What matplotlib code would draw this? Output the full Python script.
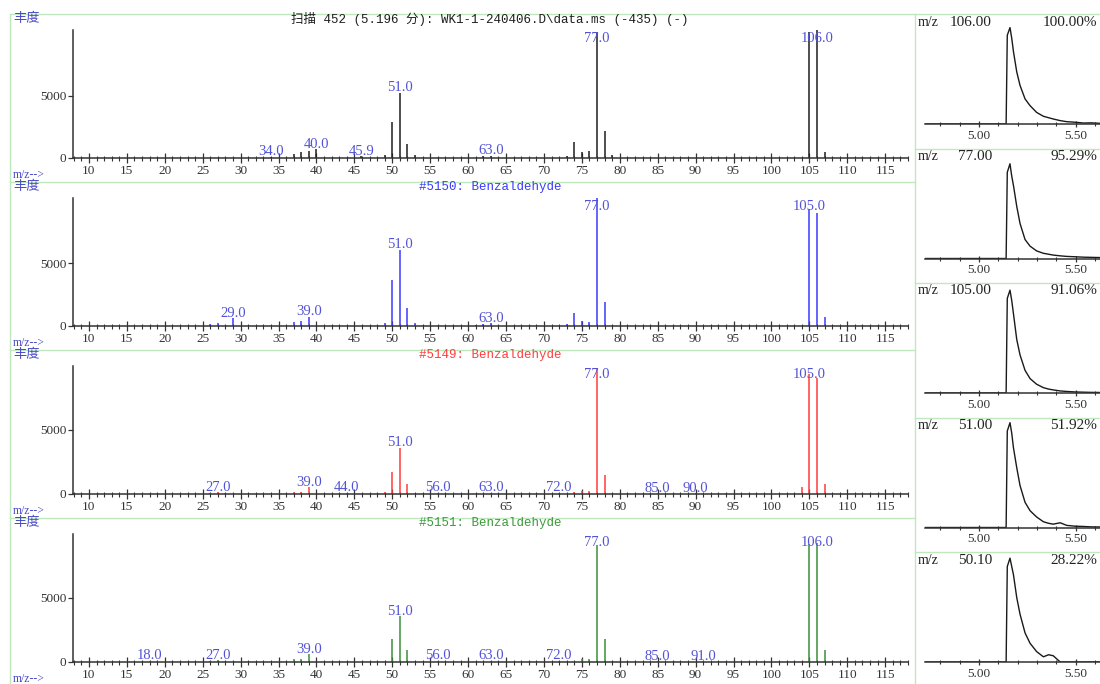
import matplotlib
matplotlib.use('Agg')
import matplotlib.pyplot as plt
from matplotlib.lines import Line2D
from matplotlib.ticker import FixedLocator, MultipleLocator

plt.rcParams['font.family'] = ['Liberation Serif', 'Noto Sans CJK SC']

# ---------------- data ----------------
# Panel 1: sample scan (black)
scan_mz = [34, 37, 38, 39, 40, 45.9, 49, 50, 51, 52, 53, 62, 63, 73, 74, 75, 76, 77, 78, 79, 105, 106, 107]
scan_ab = [120, 300, 450, 550, 700, 150, 250, 2930, 5270, 1100, 220, 150, 200, 200, 1300, 500, 550, 10150, 2180, 250, 10150, 10300, 500]
scan_labels = [34.0, 40.0, 45.9, 51.0, 63.0, 77.0, 106.0]
scan_ymax = 10300

# Panel 2: library #5150 (blue)
lib5150_mz = [26, 27, 29, 37, 38, 39, 49, 50, 51, 52, 53, 61, 62, 63, 73, 74, 75, 76, 77, 78, 105, 106, 107]
lib5150_ab = [150, 240, 615, 350, 400, 740, 200, 3670, 6060, 1410, 200, 100, 150, 200, 150, 1070, 400, 300, 10200, 1950, 9300, 8990, 750]
lib5150_labels = [29.0, 39.0, 51.0, 63.0, 77.0, 105.0]
lib5150_ymax = 10200

# Panel 3: library #5149 (red)
lib5149_mz = [26, 27, 28, 37, 38, 39, 44, 49, 50, 51, 52, 56, 63, 72, 74, 75, 76, 77, 78, 85, 90, 104, 105, 106, 107]
lib5149_ab = [100, 150, 100, 180, 180, 520, 80, 120, 1730, 3620, 775, 80, 80, 80, 150, 250, 200, 9740, 1470, 60, 60, 570, 9360, 9090, 775]
lib5149_labels = [27.0, 39.0, 44.0, 51.0, 56.0, 63.0, 72.0, 77.0, 85.0, 90.0, 105.0]
lib5149_ymax = 10000

# Panel 4: library #5151 (green)
lib5151_mz = [18, 26, 27, 37, 38, 39, 50, 51, 52, 56, 63, 72, 75, 76, 77, 78, 85, 91, 105, 106, 107]
lib5151_ab = [80, 100, 150, 230, 230, 600, 1760, 3565, 900, 80, 80, 80, 250, 250, 9170, 1810, 60, 60, 9250, 9300, 900]
lib5151_labels = [18.0, 27.0, 39.0, 51.0, 56.0, 63.0, 72.0, 77.0, 85.0, 91.0, 106.0]
lib5151_ymax = 10000

titles = ["扫描 452 (5.196 分): WK1-1-240406.D\\data.ms (-435) (-)",
          "#5150: Benzaldehyde",
          "#5149: Benzaldehyde",
          "#5151: Benzaldehyde"]
mz_ticks = [10, 15, 20, 25, 30, 35, 40, 45, 50, 55, 60, 65, 70, 75, 80, 85, 90, 95, 100, 105, 110, 115]

# Extracted ion chromatograms (percent of own max)
rt = [4.72, 5.140, 5.146, 5.160, 5.169, 5.178, 5.195, 5.212, 5.238, 5.264, 5.298, 5.333, 5.36, 5.384, 5.42, 5.454, 5.50, 5.540, 5.58, 5.626]
eic_106 = [0, 0, 92, 100, 89, 75, 54, 40, 26, 19, 12, 8, 6.5, 5.2, 3.5, 2.4, 1.8, 1.0, 1.2, 0.7]
eic_77 = [0, 0, 91, 100, 87, 77, 55, 37, 20, 13, 8, 5.5, 4.5, 3.6, 2.8, 2.2, 1.8, 1.4, 1.2, 1.0]
eic_105 = [0, 0, 92, 100, 90, 77, 52, 37, 22, 14, 8.5, 5.2, 3.8, 3.0, 2.0, 1.5, 1.0, 0.8, 0.6, 0.5]
eic_51 = [0, 0, 92, 100, 90, 76, 57, 40, 24, 16, 10, 5.5, 4.0, 3.2, 4.5, 2.0, 1.2, 1.0, 0.6, 0.5]
eic_50 = [0, 0, 92, 100, 92, 84, 62, 46, 28, 18, 10, 5, 7, 6, 0, 0, 0, 0, 0, 0]
eic_ions = [106.00, 77.00, 105.00, 51.00, 50.10]
eic_pct = [100.00, 95.29, 91.06, 51.92, 28.22]
rt_ticks = [5.00, 5.50]
rt_minor = [4.8, 4.9, 5.1, 5.2, 5.3, 5.4, 5.6]

# ---------------- layout ----------------
W, H = 1100, 684
fig = plt.figure(figsize=(W / 100, H / 100), dpi=100)


def fx(p):
    return p / W


def fy(p):
    return 1 - p / H


green = '#bfe8bf'
label_blue = '#5252d6'
axis_col = '#333333'


def hline(y, x0, x1):
    fig.add_artist(Line2D([fx(x0), fx(x1)], [fy(y), fy(y)], color=green, lw=1.0))


def vline(x, y0, y1):
    fig.add_artist(Line2D([fx(x), fx(x)], [fy(y0), fy(y1)], color=green, lw=1.0))


hline(14, 10, 1100)
vline(10, 14, 684)
vline(915, 14, 684)
for y in [182, 350, 518]:
    hline(y, 10, 915)
for y in [148.5, 283, 417.5, 552]:
    hline(y, 915, 1100)

panels = [
    (scan_mz, scan_ab, scan_labels, scan_ymax, '#1e1e1e', '#1e1e1e'),
    (lib5150_mz, lib5150_ab, lib5150_labels, lib5150_ymax, '#3a3aff', '#3a3aff'),
    (lib5149_mz, lib5149_ab, lib5149_labels, lib5149_ymax, '#ff3c3c', '#ff3c3c'),
    (lib5151_mz, lib5151_ab, lib5151_labels, lib5151_ymax, '#3a8f3a', '#3a9a3a'),
]

for i, (mz, ab, labs, ymax, col, tcol) in enumerate(panels):
    top = 14 + 168 * i
    ax_top = top + 16
    base = top + 144
    ax = fig.add_axes([fx(73), fy(base), fx(908) - fx(73), (base - ax_top) / H])
    ax.patch.set_alpha(0)
    ax.vlines(mz, 0, ab, colors=col, lw=1.1)
    ax.set_xlim(7.9, 118)
    ax.set_ylim(0, ymax)
    for s in ['top', 'right']:
        ax.spines[s].set_visible(False)
    for s in ['left', 'bottom']:
        ax.spines[s].set_color(axis_col)
        ax.spines[s].set_linewidth(1.1)
    ax.xaxis.set_major_locator(FixedLocator(mz_ticks))
    ax.set_xticklabels([str(t) for t in mz_ticks])
    ax.xaxis.set_minor_locator(MultipleLocator(1))
    ax.tick_params(axis='x', which='major', direction='inout', length=6.5, width=0.9,
                   pad=1.5, labelsize=9.5, colors=axis_col, labelcolor='#333333')
    ax.tick_params(axis='x', which='minor', direction='inout', length=3.6, width=0.8, colors=axis_col)
    ax.set_yticks([0, 5000])
    ax.set_yticklabels(['0', '5000'])
    ax.tick_params(axis='y', direction='out', length=3.6, width=0.9, pad=1,
                   labelsize=9.5, colors=axis_col, labelcolor='#333333')
    ppx = ymax / (base - ax_top)
    lookup = dict(zip(mz, ab))
    for lm in labs:
        h = lookup.get(lm, 0)
        y = min(h + 1.5 * ppx, ymax - 12 * ppx)
        ax.text(lm, y, f"{lm:.1f}", ha='center', va='baseline', color=label_blue,
                fontsize=10.5, clip_on=False)
    fig.text(fx(13), fy(top + 5), "丰度", color='#4a4ac8', fontsize=9.5, ha='left', va='center')
    fig.text(fx(13), fy(top + 161), "m/z-->", color='#4a4ac8', fontsize=8.5, ha='left', va='center')
    fig.text(fx(490), fy(top + 5), titles[i], color=tcol, fontsize=9,
             ha='center', va='center', family=['Liberation Mono', 'Noto Sans CJK SC'])

eics = [eic_106, eic_77, eic_105, eic_51, eic_50]
eic_ytop = [112, 114, 105, 103, 104]
rtops = [14, 148.5, 283, 417.5, 552]
for i in range(5):
    top = rtops[i]
    base = top + 110
    ax = fig.add_axes([fx(925), fy(base), fx(1100) - fx(925), (base - top - 2) / H])
    ax.patch.set_alpha(0)
    ax.plot(rt, eics[i], color='#1a1a1a', lw=1.0)
    ax.set_xlim(4.72, 5.626)
    ax.set_ylim(0, eic_ytop[i])
    for s in ['top', 'right', 'left']:
        ax.spines[s].set_visible(False)
    ax.spines['bottom'].set_color(axis_col)
    ax.spines['bottom'].set_linewidth(1.1)
    ax.set_yticks([])
    ax.set_xticks(rt_ticks)
    ax.set_xticklabels([f"{t:.2f}" for t in rt_ticks])
    ax.set_xticks(rt_minor, minor=True)
    ax.tick_params(axis='x', which='major', direction='inout', length=5, width=0.9,
                   pad=1.5, labelsize=9.5, colors=axis_col, labelcolor='#333333')
    ax.tick_params(axis='x', which='minor', direction='inout', length=3.2, width=0.8, colors=axis_col)
    fig.text(fx(918), fy(top + 8), "m/z", fontsize=10, ha='left', va='center', color='#222222')
    fig.text(fx(992), fy(top + 8), f"{eic_ions[i]:.2f}", fontsize=11, ha='right', va='center', color='#222222')
    fig.text(fx(1097), fy(top + 8), f"{eic_pct[i]:.2f}%", fontsize=11, ha='right', va='center', color='#222222')

fig.savefig('out.png', dpi=100, facecolor='white')
